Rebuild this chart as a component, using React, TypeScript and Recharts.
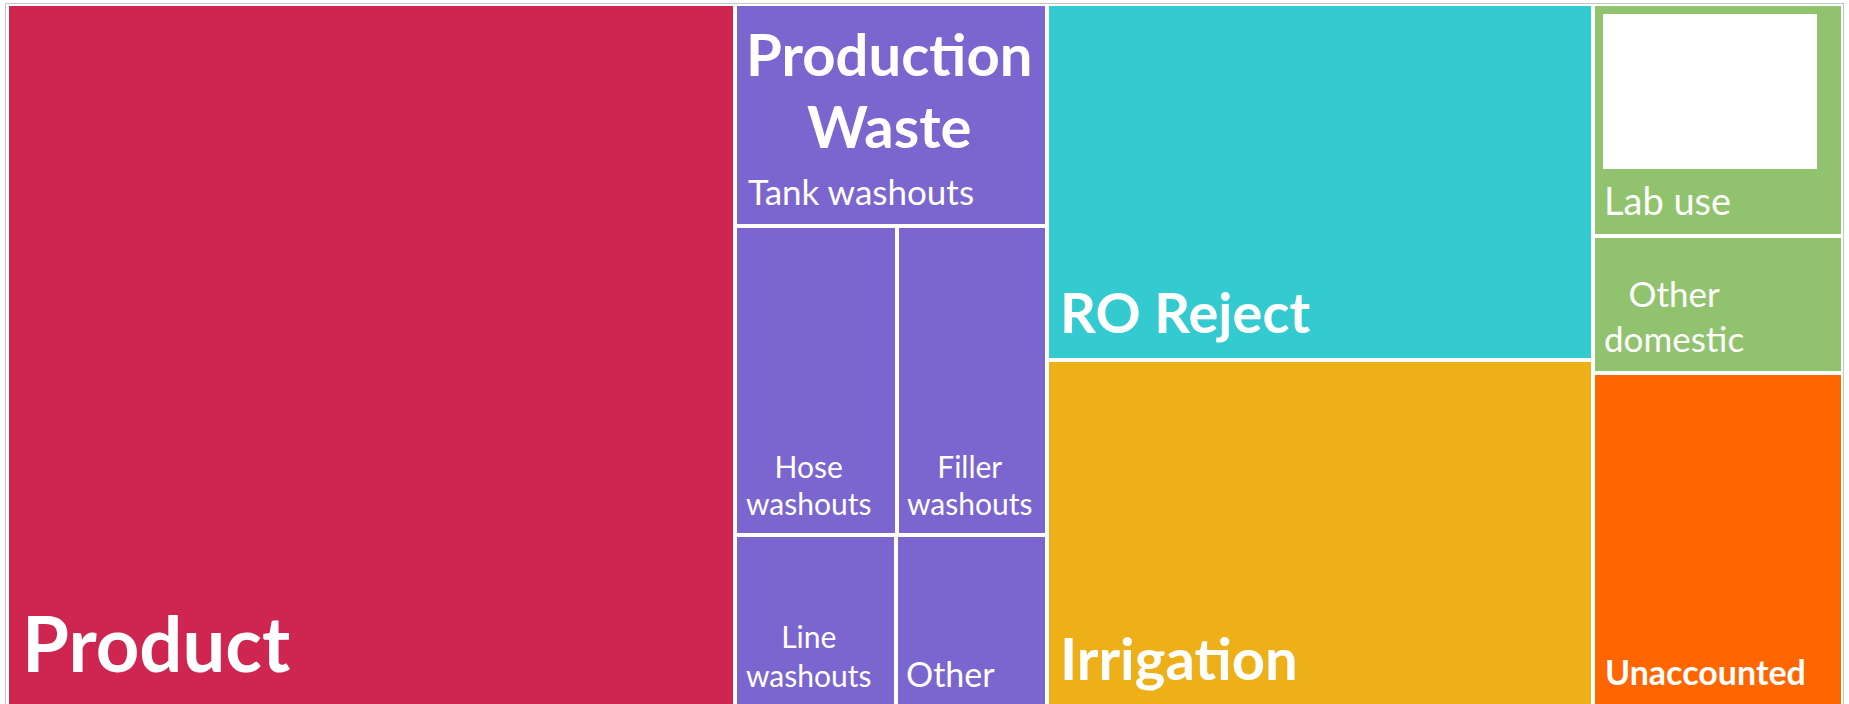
import React from "react";
import { Treemap } from "recharts";

// shares of total site water use (%)
const productShare = 39.65;
const wasteItems = ["Tank washouts", "Hose washouts", "Filler washouts", "Line washouts", "Other"];
const wasteShares = [5.36, 3.87, 3.59, 2.16, 2.02];
const treatmentItems = ["RO Reject", "Irrigation"];
const treatmentShares = [15.04, 14.7];
const domesticItems = ["Lab use", "Other domestic"];
const domesticShares = [4.49, 2.65];
const unaccountedShare = 6.48;

const toLeaves = (names: string[], values: number[]) =>
  names.map((name, i) => ({ name, value: values[i] }));

// RO reject + irrigation sit in one column, so they share a group node
const data = [
  { name: "Product", value: productShare },
  { name: "Production Waste", children: toLeaves(wasteItems, wasteShares) },
  { name: "Treatment", children: toLeaves(treatmentItems, treatmentShares) },
  { name: "Domestic", children: toLeaves(domesticItems, domesticShares) },
  { name: "Unaccounted", value: unaccountedShare },
];

const colors: Record<string, string> = {
  Product: "#CE2650",
  "Production Waste": "#7B65CE",
  "RO Reject": "#33CBCF",
  Irrigation: "#EEB018",
  Domestic: "#91C36E",
  Unaccounted: "#FF6600",
};

const FONT = "Lato, sans-serif";

type LabelStyle = {
  size: number;
  weight?: number;
  dx: number;
  bottom?: number;
  top?: number;
  lineHeight?: number;
  wrap?: boolean;
};

const labelStyles: Record<string, LabelStyle> = {
  Product: { size: 76, weight: 700, dx: 15, bottom: 36 },
  "Production Waste": { size: 58, weight: 700, dx: 11, top: 72, lineHeight: 72, wrap: true },
  "Tank washouts": { size: 35, dx: 13, bottom: 21 },
  "Hose washouts": { size: 30, dx: 11, bottom: 20, lineHeight: 37, wrap: true },
  "Filler washouts": { size: 30, dx: 10, bottom: 20, lineHeight: 37, wrap: true },
  "Line washouts": { size: 30, dx: 11, bottom: 21, lineHeight: 39, wrap: true },
  Other: { size: 34, dx: 10, bottom: 21 },
  "RO Reject": { size: 56, weight: 700, dx: 13, bottom: 27 },
  Irrigation: { size: 58, weight: 700, dx: 13, bottom: 28 },
  "Lab use": { size: 38, dx: 11, bottom: 21 },
  "Other domestic": { size: 35, dx: 11, bottom: 21, lineHeight: 45, wrap: true },
  Unaccounted: { size: 34, weight: 700, dx: 12, bottom: 23 },
};

let ctx: CanvasRenderingContext2D | null = null;
function textWidth(text: string, size: number, weight: number) {
  if (!ctx) ctx = document.createElement("canvas").getContext("2d");
  if (!ctx) return text.length * size * 0.5;
  ctx.font = `${weight} ${size}px ${FONT}`;
  return ctx.measureText(text).width;
}

function Label({ name, x, y, height }: any) {
  const s = labelStyles[name];
  if (!s) return null;
  const weight = s.weight ?? 400;
  const lines = s.wrap ? [name.slice(0, name.indexOf(" ")), name.slice(name.indexOf(" ") + 1)] : [name];
  const lh = s.lineHeight ?? s.size;
  const firstBase =
    s.top !== undefined ? y + s.top : y + height - (s.bottom ?? 20) - (lines.length - 1) * lh;
  const blockW = Math.max(...lines.map((l) => textWidth(l, s.size, weight)));
  const multi = lines.length > 1;
  return (
    <text
      fill="#fff"
      fontFamily={FONT}
      fontSize={s.size}
      fontWeight={weight}
      textAnchor={multi ? "middle" : "start"}
    >
      {lines.map((l, i) => (
        <tspan key={l} x={multi ? x + s.dx + blockW / 2 : x + s.dx} y={firstBase + i * lh}>
          {l}
        </tspan>
      ))}
    </text>
  );
}

function Cell(props: any) {
  const { x, y, width, height, depth, name } = props;
  if (!depth) return null;
  const fill = colors[name] ?? "none";
  return (
    <g>
      <rect x={x} y={y} width={width} height={height} fill={fill} stroke="#fff" strokeWidth={4} />
      {name === "Domestic" && (
        <rect x={x + 10} y={y + 10} width={width - 36} height={155} fill="#fff" />
      )}
      <Label name={name} x={x} y={y} height={height} />
    </g>
  );
}

export default function App() {
  return (
    <div style={{ position: "fixed", left: 0, top: 0, width: "100%", height: 704, overflow: "hidden", background: "#fff" }}>
      <div
        style={{
          position: "absolute",
          left: 5,
          top: 3,
          width: 1836,
          height: 760,
          paddingLeft: 1,
          border: "1px solid #c4c4c4",
        }}
      >
        <Treemap
          width={1836}
          height={704}
          data={data}
          dataKey="value"
          nameKey="name"
          aspectRatio={1.1}
          isAnimationActive={false}
          content={<Cell />}
        />
      </div>
    </div>
  );
}
